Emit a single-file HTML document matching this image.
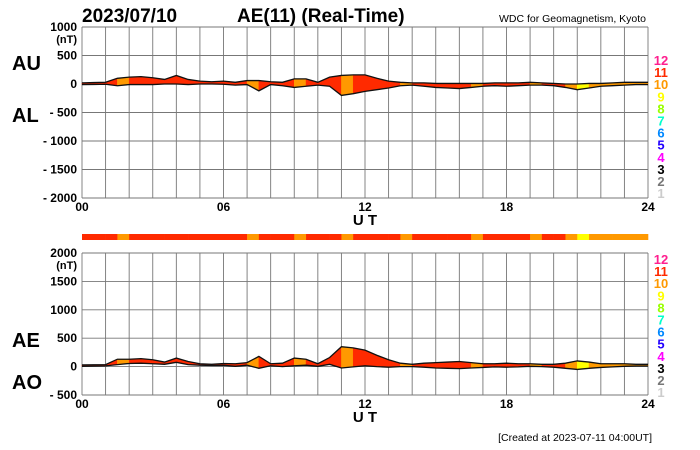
<!DOCTYPE html>
<html><head><meta charset="utf-8"><style>
body{margin:0;background:#fff;}
svg{display:block;font-family:"Liberation Sans",Arial,sans-serif;}
</style></head><body>
<svg id="c" width="700" height="450" viewBox="0 0 700 450">
<text x="82" y="22" font-size="19" font-weight="bold">2023/07/10</text>
<text x="237" y="22" font-size="19" font-weight="bold">AE(11) (Real-Time)</text>
<text x="646" y="22" font-size="10.5" text-anchor="end">WDC for Geomagnetism, Kyoto</text>
<text x="12" y="70" font-size="20" font-weight="bold">AU</text>
<text x="12" y="122" font-size="20" font-weight="bold">AL</text>
<text x="12" y="347" font-size="20" font-weight="bold">AE</text>
<text x="12" y="389" font-size="20" font-weight="bold">AO</text>
<text x="652" y="441" font-size="10.5" text-anchor="end">[Created at 2023-07-11 04:00UT]</text>
<g id="g"></g>
</svg>
<script>
const hours=[0,0.5,1,1.5,2,2.5,3,3.5,4,4.5,5,5.5,6,6.5,7,7.5,8,8.5,9,9.5,10,10.5,11,11.5,12,12.5,13,13.5,14,14.5,15,15.5,16,16.5,17,17.5,18,18.5,19,19.5,20,20.5,21,21.5,22,22.5,23,23.5,24];
const auValues=[20,25,30,100,120,130,110,80,150,80,50,40,50,30,60,60,40,30,90,90,30,120,150,160,160,100,50,30,20,20,10,10,10,10,10,20,20,20,30,20,10,0,0,10,10,20,30,30,30];
const alValues=[-10,-8,-5,-30,-10,-10,-10,0,0,-10,0,0,-5,-20,-10,-120,-10,-30,-60,-40,-20,-40,-200,-170,-130,-100,-70,-30,-20,-40,-60,-70,-80,-60,-40,-30,-40,-30,-20,-20,-30,-60,-100,-70,-40,-30,-20,-10,-10];
const levels=[11,11,11,10,11,11,11,11,11,11,11,11,11,11,10,11,11,11,10,11,11,11,10,11,11,11,11,10,11,11,11,11,11,10,11,11,11,11,10,11,11,10,9,10,10,10,10,10,10];
const topTicks=[1000,500,0,-500,-1000,-1500,-2000];
const botTicks=[2000,1500,1000,500,0,-500];
const xTicks=["00","06","12","18","24"];
const levelLabels=[12,11,10,9,8,7,6,5,4,3,2,1];
const levelColors={12:"#ff1f8f",11:"#ff2a00",10:"#ff9900",9:"#ffff00",8:"#99ff00",7:"#00ffcc",6:"#0088ff",5:"#2200ff",4:"#ff00ff",3:"#000000",2:"#777777",1:"#cccccc"};
const NS="http://www.w3.org/2000/svg",G=document.getElementById('g');
function el(t,a,txt){const e=document.createElementNS(NS,t);for(const k in a)e.setAttribute(k,a[k]);if(txt!==undefined)e.textContent=txt;G.appendChild(e);return e;}
const X0=82,X1=648;
const xs=h=>X0+(X1-X0)*h/24;
const yTop=v=>27+(1000-v)*(198-27)/3000;
const yBot=v=>253+(2000-v)*(395-253)/2500;
const ae=auValues.map((u,i)=>u-alValues[i]);
const ao=auValues.map((u,i)=>(u+alValues[i])/2);
function panel(name,ys,ticks,upper,lower,levY){
  for(let h=0;h<=24;h++){const l=el('line',{x1:xs(h),x2:xs(h),y1:ys(ticks[0]),y2:ys(ticks[ticks.length-1]),stroke:'#777','stroke-width':0.9});
    }
  ticks.forEach((t,i)=>{const l=el('line',{x1:X0,x2:X1,y1:ys(t),y2:ys(t),stroke:'#777','stroke-width':0.9});
    
    const lb=el('text',{x:77,y:ys(t)+4,'font-size':12,'font-weight':'bold','text-anchor':'end'},t<0?'- '+(-t):String(t));
    
    if(i===0){const u=el('text',{x:77,y:ys(t)+16,'font-size':11,'font-weight':'bold','text-anchor':'end'},'(nT)');
      }});
  for(let i=0;i<hours.length-1;i++){
    const p=[xs(hours[i])+','+ys(upper[i]),xs(hours[i+1])+','+ys(upper[i+1]),xs(hours[i+1])+','+ys(lower[i+1]),xs(hours[i])+','+ys(lower[i])].join(' ');
    const c=el('polygon',{points:p,fill:levelColors[levels[i]],stroke:levelColors[levels[i]],'stroke-width':0.5});
    }
  [upper,lower].forEach((arr,k)=>{const l=el('polyline',{points:hours.map((h,i)=>xs(h)+','+ys(arr[i])).join(' '),fill:'none',stroke:'#111','stroke-width':1.3});
    });
  const yb=ys(ticks[ticks.length-1]);
  xTicks.forEach((t,i)=>{const a=el('text',{x:xs(i*6),y:yb+13,'font-size':12,'font-weight':'bold','text-anchor':'middle'},t);
    });
  const ut=el('text',{x:365,y:yb+27,'font-size':15,'font-weight':'bold','text-anchor':'middle'},'U T');
  
  levelLabels.forEach((n,i)=>{const a=el('text',{x:661,y:levY+i*12.1+5,'font-size':13,'font-weight':'bold','text-anchor':'middle',fill:levelColors[n]},String(n));
    });
}
panel('aual-panel',yTop,topTicks,auValues,alValues,60);
panel('aeao-panel',yBot,botTicks,ae,ao,259);
for(let i=0;i<hours.length-1;i++){
  const r=el('rect',{x:xs(hours[i]),y:234,width:xs(hours[i+1])-xs(hours[i])+0.3,height:6,fill:levelColors[levels[i]]});
  }
</script>
</body></html>
